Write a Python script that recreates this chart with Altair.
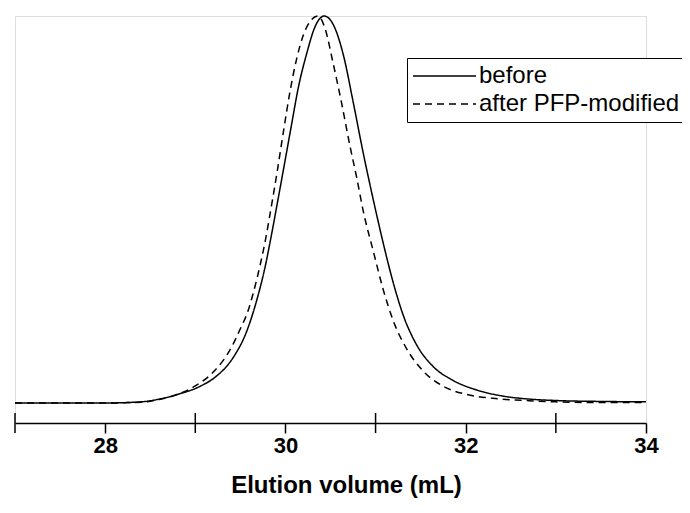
import altair as alt
import pandas as pd

# ---- data ----
series_names = ["before", "after PFP-modified"]

x_before = [27.0, 27.5, 28.0, 28.4, 28.6, 28.8, 29.052, 29.238, 29.422, 29.57, 29.681,
            29.773, 29.848, 29.921, 29.995, 30.07, 30.143, 30.236, 30.328, 30.43, 30.53,
            30.642, 30.753, 30.864, 30.994, 31.086, 31.197, 31.308, 31.456, 31.64, 31.862,
            32.13, 32.41, 32.71, 33.05, 33.5, 34.0]
y_before = [0.0, 0.0, 0.0, 0.003, 0.010, 0.022, 0.043, 0.070, 0.118, 0.185, 0.265,
            0.350, 0.438, 0.530, 0.625, 0.722, 0.815, 0.903, 0.972, 1.0, 0.978,
            0.900, 0.776, 0.645, 0.505, 0.412, 0.310, 0.226, 0.150, 0.094, 0.058,
            0.033, 0.018, 0.010, 0.006, 0.004, 0.003]

x_after = [27.0, 27.5, 28.0, 28.4, 28.6, 28.8, 29.0, 29.2, 29.404, 29.496, 29.588,
           29.644, 29.718, 29.773, 29.829, 29.903, 29.977, 30.051, 30.125, 30.198, 30.28,
           30.36, 30.439, 30.53, 30.624, 30.716, 30.791, 30.864, 30.975, 31.086, 31.197,
           31.345, 31.53, 31.752, 32.014, 32.3, 32.7, 33.0, 33.5, 34.0]
y_after = [0.0, 0.0, 0.0, 0.002, 0.009, 0.022, 0.044, 0.080, 0.145, 0.190, 0.240,
           0.285, 0.355, 0.415, 0.488, 0.590, 0.700, 0.805, 0.890, 0.950, 0.988,
           1.0, 0.968, 0.877, 0.774, 0.664, 0.582, 0.495, 0.392, 0.292, 0.212,
           0.140, 0.082, 0.043, 0.022, 0.012, 0.006, 0.003, 0.001, 0.001]

major_ticks = [28, 30, 32, 34]
minor_ticks = [27, 29, 31, 33]

df = pd.concat([
    pd.DataFrame({"volume": x_before, "signal": y_before, "series": series_names[0]}),
    pd.DataFrame({"volume": x_after, "signal": y_after, "series": series_names[1]}),
], ignore_index=True)
minor_df = pd.DataFrame({"volume": minor_ticks})

W, H = 631, 407
x_scale = alt.Scale(domain=[27, 34], nice=False, zero=False)

lines = alt.Chart(df).mark_line(color="black", strokeWidth=1.5, interpolate="monotone").encode(
    x=alt.X("volume:Q", scale=x_scale,
            axis=alt.Axis(values=major_ticks, format="d", grid=False,
                          title="Elution volume (mL)",
                          titleFont="Liberation Sans", titleFontSize=24, titleFontWeight="bold",
                          titleColor="black", titleX=331, titleY=69, titleBaseline="alphabetic",
                          labelFont="Liberation Sans", labelFontSize=22, labelFontWeight="bold",
                          labelColor="black", labelPadding=2, labelFlush=False,
                          domainColor="black", domainWidth=1.5,
                          tickColor="black", tickWidth=1.5, tickSize=10)),
    y=alt.Y("signal:Q", scale=alt.Scale(domain=[-0.0517, 1.0], nice=False, zero=False), axis=None),
    strokeDash=alt.StrokeDash(
        "series:N",
        scale=alt.Scale(domain=series_names, range=[[1, 0], [7, 5]]),
        sort=series_names,
        legend=alt.Legend(title=None, orient="none", legendX=392, legendY=42,
                          strokeColor="black", fillColor="white", padding=5,
                          labelFont="Liberation Sans", labelFontSize=24, labelColor="black",
                          labelLimit=500, labelOffset=2,
                          symbolType="stroke", symbolSize=3969, symbolStrokeWidth=1.5,
                          symbolStrokeColor="black", clipHeight=26, rowPadding=2)),
)

minor = alt.Chart(minor_df).mark_rule(color="black", strokeWidth=1.5).encode(
    x=alt.X("volume:Q", scale=x_scale),
    y=alt.value(H - 10),
    y2=alt.value(H + 10),
)

chart = alt.layer(lines, minor).properties(
    width=W, height=H,
    autosize=alt.AutoSizeParams(type="none"),
    padding={"left": 7, "top": 8, "right": 36, "bottom": 77},
).configure_view(stroke=None).configure(background="white")

chart.save("out.html", embed_options={"renderer": "svg", "actions": False})
